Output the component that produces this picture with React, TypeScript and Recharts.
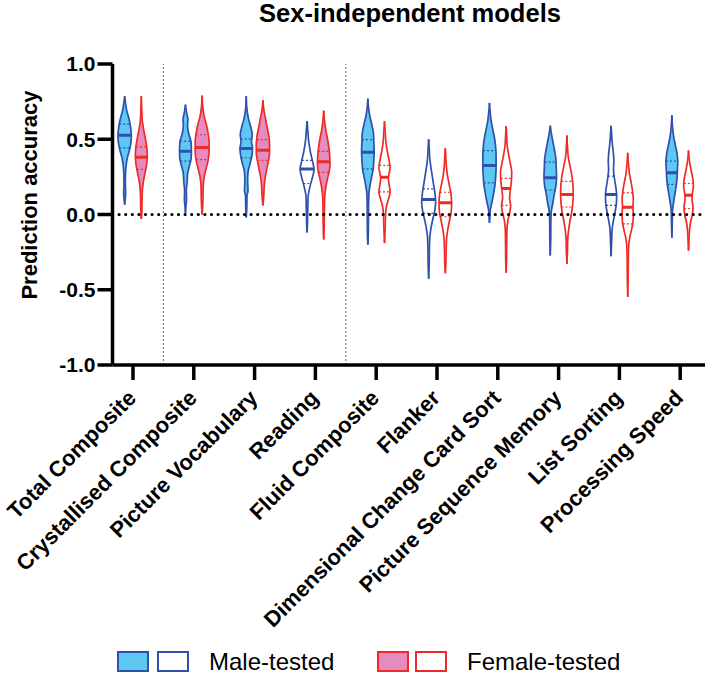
import { ComposedChart, Area, Line, XAxis, YAxis, ReferenceLine } from "recharts";

const FONT = '"Liberation Sans", Arial, Helvetica, sans-serif';

const categories = [
  "Total Composite",
  "Crystallised Composite",
  "Picture Vocabulary",
  "Reading",
  "Fluid Composite",
  "Flanker",
  "Dimensional Change Card Sort",
  "Picture Sequence Memory",
  "List Sorting",
  "Processing Speed",
];

const yTicks = [-1, -0.5, 0, 0.5, 1];

// summary lines
const maleMedian = [0.527, 0.42, 0.438, 0.303, 0.414, 0.1, 0.326, 0.244, 0.133, 0.277];
const maleUpperQ = [0.6, 0.487, 0.503, 0.36, 0.498, 0.17, 0.425, 0.348, 0.255, 0.354];
const maleLowerQ = [0.443, 0.354, 0.377, 0.206, 0.303, 0.007, 0.21, 0.162, 0.06, 0.2];
const maleFilled = [true, true, true, false, true, false, true, true, false, true];

const femaleMedian = [0.38, 0.445, 0.427, 0.35, 0.248, 0.078, 0.173, 0.133, 0.049, 0.128];
const femaleUpperQ = [0.45, 0.53, 0.498, 0.42, 0.326, 0.148, 0.24, 0.22, 0.144, 0.206];
const femaleLowerQ = [0.3, 0.365, 0.36, 0.28, 0.151, -0.015, 0.06, 0.05, -0.062, 0.04];
const femaleFilled = [true, true, true, true, false, false, false, false, false, false];

// violin outlines: [accuracy, relative density], from top to bottom
type Profile = [number, number][];

const maleProfiles: Profile[] = [
  [[0.786, 0], [0.74, 0.12], [0.69, 0.3], [0.64, 0.6], [0.58, 0.85], [0.53, 0.95], [0.48, 0.9], [0.43, 0.7], [0.38, 0.4], [0.33, 0.22], [0.27, 0.12], [0.2, 0.1], [0.14, 0.14], [0.1, 0.08], [0.066, 0]],
  [[0.73, 0], [0.68, 0.15], [0.63, 0.35], [0.59, 0.3], [0.54, 0.45], [0.48, 0.8], [0.42, 0.85], [0.37, 0.8], [0.32, 0.55], [0.27, 0.3], [0.22, 0.25], [0.16, 0.12], [0.1, 0.15], [0.05, 0.06], [0.01, 0]],
  [[0.786, 0], [0.7, 0.1], [0.64, 0.3], [0.59, 0.6], [0.53, 0.85], [0.48, 0.75], [0.44, 0.9], [0.39, 0.8], [0.33, 0.5], [0.28, 0.25], [0.22, 0.2], [0.16, 0.25], [0.12, 0.1], [0.05, 0.08], [-0.02, 0]],
  [[0.62, 0], [0.55, 0.12], [0.5, 0.2], [0.45, 0.35], [0.4, 0.55], [0.35, 0.8], [0.3, 1.0], [0.26, 0.85], [0.21, 0.55], [0.16, 0.3], [0.12, 0.15], [0.06, 0.12], [0.0, 0.08], [-0.06, 0.06], [-0.12, 0]],
  [[0.77, 0], [0.7, 0.12], [0.65, 0.3], [0.6, 0.55], [0.54, 0.8], [0.48, 0.85], [0.42, 0.9], [0.36, 0.85], [0.3, 0.75], [0.24, 0.5], [0.19, 0.3], [0.14, 0.15], [0.06, 0.1], [-0.05, 0.08], [-0.12, 0.07], [-0.2, 0]],
  [[0.5, 0], [0.44, 0.08], [0.38, 0.15], [0.32, 0.3], [0.26, 0.5], [0.2, 0.7], [0.14, 0.9], [0.08, 1.0], [0.02, 0.85], [-0.04, 0.55], [-0.1, 0.3], [-0.16, 0.15], [-0.24, 0.1], [-0.32, 0.08], [-0.427, 0]],
  [[0.742, 0], [0.68, 0.1], [0.62, 0.25], [0.56, 0.5], [0.5, 0.75], [0.44, 0.9], [0.38, 0.95], [0.32, 0.95], [0.26, 0.9], [0.2, 0.8], [0.14, 0.6], [0.08, 0.35], [0.03, 0.12], [-0.02, 0.06], [-0.055, 0]],
  [[0.59, 0], [0.54, 0.15], [0.49, 0.35], [0.43, 0.6], [0.37, 0.8], [0.31, 0.85], [0.25, 0.9], [0.19, 0.8], [0.13, 0.55], [0.07, 0.35], [0.02, 0.15], [-0.05, 0.08], [-0.15, 0.07], [-0.272, 0]],
  [[0.59, 0], [0.52, 0.1], [0.46, 0.2], [0.4, 0.35], [0.35, 0.4], [0.3, 0.35], [0.25, 0.45], [0.19, 0.65], [0.13, 0.8], [0.07, 0.75], [0.01, 0.55], [-0.05, 0.3], [-0.1, 0.15], [-0.18, 0.08], [-0.277, 0]],
  [[0.66, 0], [0.58, 0.1], [0.52, 0.25], [0.46, 0.5], [0.4, 0.75], [0.35, 0.85], [0.3, 0.8], [0.25, 0.75], [0.2, 0.65], [0.14, 0.45], [0.08, 0.25], [0.03, 0.1], [-0.05, 0.06], [-0.155, 0]],
];

const femaleProfiles: Profile[] = [
  [[0.786, 0], [0.7, 0.06], [0.62, 0.15], [0.56, 0.35], [0.5, 0.6], [0.44, 0.8], [0.39, 0.85], [0.34, 0.78], [0.28, 0.55], [0.22, 0.3], [0.16, 0.15], [0.08, 0.1], [0.0, 0.06], [-0.03, 0]],
  [[0.79, 0], [0.72, 0.08], [0.65, 0.3], [0.6, 0.6], [0.54, 0.85], [0.48, 1.0], [0.42, 1.0], [0.36, 0.85], [0.3, 0.55], [0.25, 0.3], [0.18, 0.15], [0.1, 0.12], [0.04, 0.06], [0.0, 0]],
  [[0.76, 0], [0.7, 0.12], [0.64, 0.35], [0.58, 0.6], [0.52, 0.85], [0.46, 0.95], [0.41, 0.95], [0.36, 0.8], [0.3, 0.55], [0.24, 0.3], [0.18, 0.18], [0.12, 0.12], [0.06, 0]],
  [[0.69, 0], [0.62, 0.12], [0.56, 0.3], [0.5, 0.55], [0.44, 0.75], [0.39, 0.85], [0.34, 0.9], [0.29, 0.8], [0.24, 0.55], [0.18, 0.3], [0.12, 0.15], [0.04, 0.1], [-0.05, 0.08], [-0.12, 0.05], [-0.166, 0]],
  [[0.62, 0], [0.55, 0.1], [0.48, 0.2], [0.42, 0.4], [0.36, 0.65], [0.31, 0.8], [0.27, 0.65], [0.24, 0.55], [0.2, 0.65], [0.15, 0.8], [0.1, 0.55], [0.06, 0.3], [0.0, 0.15], [-0.08, 0.1], [-0.19, 0]],
  [[0.44, 0], [0.38, 0.08], [0.32, 0.15], [0.26, 0.3], [0.2, 0.55], [0.14, 0.8], [0.08, 0.9], [0.02, 0.85], [-0.04, 0.6], [-0.1, 0.35], [-0.16, 0.18], [-0.24, 0.12], [-0.32, 0.08], [-0.39, 0]],
  [[0.587, 0], [0.52, 0.08], [0.46, 0.15], [0.4, 0.35], [0.34, 0.6], [0.28, 0.8], [0.22, 0.75], [0.16, 0.6], [0.11, 0.5], [0.06, 0.65], [0.01, 0.5], [-0.04, 0.25], [-0.1, 0.12], [-0.2, 0.08], [-0.3, 0.06], [-0.387, 0]],
  [[0.525, 0], [0.45, 0.08], [0.38, 0.2], [0.32, 0.45], [0.26, 0.7], [0.2, 0.85], [0.14, 0.9], [0.08, 0.85], [0.02, 0.7], [-0.04, 0.45], [-0.1, 0.25], [-0.16, 0.12], [-0.24, 0.08], [-0.328, 0]],
  [[0.41, 0], [0.34, 0.1], [0.27, 0.25], [0.21, 0.5], [0.15, 0.7], [0.1, 0.8], [0.05, 0.75], [0.0, 0.8], [-0.05, 0.75], [-0.1, 0.55], [-0.15, 0.3], [-0.2, 0.15], [-0.3, 0.08], [-0.42, 0.06], [-0.547, 0]],
  [[0.425, 0], [0.36, 0.12], [0.3, 0.35], [0.24, 0.6], [0.19, 0.7], [0.14, 0.55], [0.1, 0.5], [0.05, 0.65], [0.0, 0.55], [-0.05, 0.3], [-0.1, 0.15], [-0.16, 0.08], [-0.24, 0]],
];

const MALE_STROKE = "#2f50ad";
const MALE_FILL = "#5fc8f2";
const FEMALE_STROKE = "#ee2b26";
const FEMALE_FILL = "#e58bbf";

const SIDE = 0.137; // violin offset from the category tick
const HALF = 0.115; // half width of a density of 1

function widthAt(profile: Profile, v: number) {
  for (let i = 0; i < profile.length - 1; i++) {
    const [v0, d0] = profile[i];
    const [v1, d1] = profile[i + 1];
    if (v <= v0 && v >= v1) {
      const t = (v0 - v) / (v0 - v1);
      return d0 + (d1 - d0) * t;
    }
  }
  return 0;
}

const violins = categories.flatMap((_, i) => [
  {
    key: `m${i}`,
    center: i - SIDE,
    profile: maleProfiles[i],
    median: maleMedian[i],
    quartiles: [maleUpperQ[i], maleLowerQ[i]],
    filled: maleFilled[i],
    stroke: MALE_STROKE,
    fill: MALE_FILL,
  },
  {
    key: `f${i}`,
    center: i + SIDE,
    profile: femaleProfiles[i],
    median: femaleMedian[i],
    quartiles: [femaleUpperQ[i], femaleLowerQ[i]],
    filled: femaleFilled[i],
    stroke: FEMALE_STROKE,
    fill: FEMALE_FILL,
  },
]);

function segment(center: number, profile: Profile, v: number) {
  const w = widthAt(profile, v) * HALF;
  return [
    { y: v, x: center - w },
    { y: v, x: center + w },
  ];
}

const CategoryTick = (props: any) => {
  const { x, y, payload } = props;
  const ax = x - 1;
  const ay = y + 12;
  return (
    <text
      x={ax}
      y={ay}
      transform={`rotate(-45 ${ax} ${ay})`}
      textAnchor="end"
      dominantBaseline="central"
      fontFamily={FONT}
      fontWeight="bold"
      fontSize={22}
      fill="#000"
    >
      {categories[Math.round(payload.value)]}
    </text>
  );
};

const legendBox = (bg: string, border: string, left: number) => (
  <div
    style={{
      position: "absolute",
      left,
      top: 651,
      width: 32,
      height: 21,
      boxSizing: "border-box",
      background: bg,
      border: `2px solid ${border}`,
    }}
  />
);

export default function App() {
  return (
    <div style={{ position: "relative", width: 709, height: 675, background: "#fff", fontFamily: FONT }}>
      <style>{"body{margin:0}"}</style>
      <div
        style={{
          position: "absolute",
          left: 410,
          top: 13,
          transform: "translate(-50%, -50%)",
          fontSize: 25.5,
          fontWeight: "bold",
          whiteSpace: "nowrap",
        }}
      >
        Sex-independent models
      </div>
      <div
        style={{
          position: "absolute",
          left: 30,
          top: 195,
          transform: "translate(-50%, -50%) rotate(-90deg)",
          fontSize: 22,
          fontWeight: "bold",
          whiteSpace: "nowrap",
        }}
      >
        Prediction accuracy
      </div>
      <ComposedChart
        width={709}
        height={675}
        layout="vertical"
        margin={{ top: 64, right: 4, bottom: 50, left: 52.5 }}
      >
        <XAxis
          type="number"
          domain={[-0.337, 9.408]}
          allowDataOverflow
          ticks={categories.map((_, i) => i)}
          interval={0}
          height={260}
          tickSize={15}
          tick={<CategoryTick />}
          axisLine={{ stroke: "#000", strokeWidth: 3.5 }}
          tickLine={{ stroke: "#000", strokeWidth: 3.5 }}
        />
        <YAxis
          type="number"
          dataKey="y"
          domain={[-1, 1]}
          reversed
          allowDataOverflow
          ticks={yTicks}
          interval={0}
          width={60}
          tickSize={15}
          tickFormatter={(v: number) => v.toFixed(1)}
          tick={{ fill: "#000", fontSize: 21, fontWeight: "bold", fontFamily: FONT }}
          axisLine={{ stroke: "#000", strokeWidth: 3.5 }}
          tickLine={{ stroke: "#000", strokeWidth: 3.5 }}
        />
        <ReferenceLine x={0.5} stroke="#6b6b6b" strokeWidth={1} strokeDasharray="2 2" />
        <ReferenceLine x={3.5} stroke="#6b6b6b" strokeWidth={1} strokeDasharray="2 2" />
        {violins.map((v) => (
          <Area
            key={v.key}
            data={v.profile.map(([y, d]) => ({ y, range: [v.center - d * HALF, v.center + d * HALF] }))}
            dataKey="range"
            type="monotone"
            stroke={v.stroke}
            strokeWidth={1.7}
            fill={v.filled ? v.fill : "none"}
            fillOpacity={1}
            dot={false}
            activeDot={false}
            isAnimationActive={false}
          />
        ))}
        {violins.map((v) => (
          <Line
            key={`${v.key}-med`}
            data={segment(v.center, v.profile, v.median)}
            dataKey="x"
            type="linear"
            stroke={v.stroke}
            strokeWidth={3}
            dot={false}
            activeDot={false}
            isAnimationActive={false}
          />
        ))}
        {violins.flatMap((v) =>
          v.quartiles.map((q, j) => (
            <Line
              key={`${v.key}-q${j}`}
              data={segment(v.center, v.profile, q)}
              dataKey="x"
              type="linear"
              stroke={v.stroke}
              strokeWidth={1.2}
              strokeDasharray="2 2"
              dot={false}
              activeDot={false}
              isAnimationActive={false}
            />
          ))
        )}
        <ReferenceLine
          y={0}
          stroke="#000"
          strokeWidth={3.2}
          strokeDasharray="0 6.6"
          strokeLinecap="round"
        />
      </ComposedChart>
      {legendBox(MALE_FILL, MALE_STROKE, 117)}
      {legendBox("#fff", MALE_STROKE, 157)}
      <div style={{ position: "absolute", left: 209, top: 662, transform: "translateY(-50%)", fontSize: 24 }}>
        Male-tested
      </div>
      {legendBox(FEMALE_FILL, FEMALE_STROKE, 377)}
      {legendBox("#fff", FEMALE_STROKE, 415)}
      <div style={{ position: "absolute", left: 467, top: 662, transform: "translateY(-50%)", fontSize: 24 }}>
        Female-tested
      </div>
    </div>
  );
}
